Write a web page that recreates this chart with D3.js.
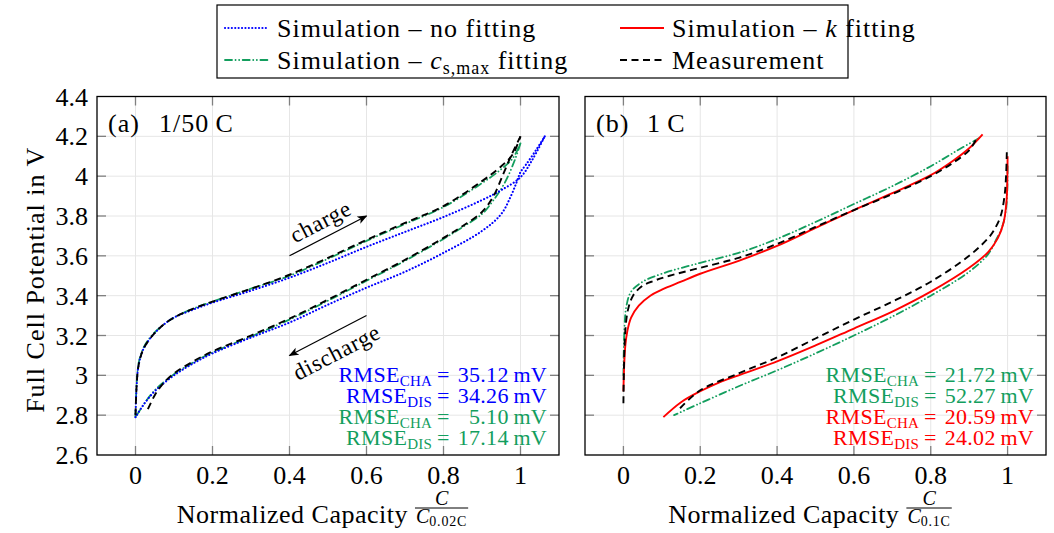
<!DOCTYPE html>
<html>
<head>
<meta charset="utf-8">
<script src="https://cdn.jsdelivr.net/npm/d3@7"></script>
<style>
  body { margin: 0; background: #fff; }
  svg { display: block; font-family: "Liberation Serif", "Times New Roman", serif; }
</style>
</head>
<body>
<svg width="1054" height="533"></svg>
<script>
const svg = d3.select("svg");

// ticks
const xTicks = [0, 0.2, 0.4, 0.6, 0.8, 1];
const xTickLabels = ["0", "0.2", "0.4", "0.6", "0.8", "1"];
const yTicks = [2.6, 2.8, 3, 3.2, 3.4, 3.6, 3.8, 4, 4.2, 4.4];
const yTickLabels = ["2.6", "2.8", "3", "3.2", "3.4", "3.6", "3.8", "4", "4.2", "4.4"];

// (a) 1/50 C  -- [normalized capacity, voltage]
const aMeasCha = [[0, 2.80], [0.003, 2.95], [0.008, 3.05], [0.02, 3.13], [0.04, 3.19], [0.07, 3.25], [0.1, 3.29], [0.15, 3.335], [0.2, 3.37], [0.3, 3.435], [0.4, 3.505], [0.5, 3.59], [0.6, 3.68], [0.7, 3.765], [0.8, 3.85], [0.9, 3.975], [0.95, 4.05], [0.98, 4.11], [1.0, 4.20]];
const aMeasDis = [[1.0, 4.20], [0.975, 4.10], [0.955, 4.01], [0.93, 3.90], [0.9, 3.82], [0.85, 3.75], [0.8, 3.69], [0.7, 3.58], [0.6, 3.48], [0.5, 3.38], [0.4, 3.285], [0.3, 3.20], [0.2, 3.12], [0.15, 3.07], [0.1, 3.01], [0.07, 2.955], [0.05, 2.90], [0.031, 2.825]];
const aNoFitCha = [[0, 2.79], [0.003, 2.95], [0.008, 3.05], [0.02, 3.13], [0.04, 3.19], [0.07, 3.25], [0.1, 3.29], [0.15, 3.33], [0.2, 3.365], [0.3, 3.425], [0.4, 3.49], [0.5, 3.565], [0.6, 3.645], [0.7, 3.72], [0.8, 3.795], [0.9, 3.88], [0.95, 3.93], [1.0, 3.995], [1.03, 4.08], [1.063, 4.20]];
const aNoFitDis = [[1.063, 4.20], [1.04, 4.13], [1.015, 4.06], [1.0, 4.02], [0.99, 3.97], [0.975, 3.9], [0.95, 3.81], [0.9, 3.725], [0.8, 3.615], [0.7, 3.52], [0.6, 3.44], [0.5, 3.355], [0.4, 3.265], [0.3, 3.19], [0.2, 3.11], [0.15, 3.06], [0.1, 3.0], [0.05, 2.92], [0.02, 2.85], [0, 2.79]];
const aCsCha = [[0, 2.79], [0.003, 2.96], [0.008, 3.06], [0.02, 3.135], [0.04, 3.195], [0.07, 3.25], [0.1, 3.29], [0.15, 3.335], [0.2, 3.37], [0.3, 3.435], [0.4, 3.50], [0.5, 3.585], [0.6, 3.675], [0.7, 3.76], [0.8, 3.845], [0.9, 3.965], [0.95, 4.035], [0.98, 4.09], [1.0, 4.165]];
const aCsDis = [[1.0, 4.165], [0.985, 4.08], [0.96, 3.97], [0.93, 3.88], [0.9, 3.81], [0.85, 3.745], [0.8, 3.685], [0.7, 3.575], [0.6, 3.475], [0.5, 3.375], [0.4, 3.28], [0.3, 3.195], [0.2, 3.115], [0.15, 3.065], [0.1, 3.005], [0.05, 2.925], [0.02, 2.85], [0, 2.79]];

// (b) 1 C
const bMeasCha = [[0, 2.86], [0.001, 3.0], [0.003, 3.15], [0.006, 3.25], [0.012, 3.33], [0.025, 3.40], [0.05, 3.45], [0.08, 3.475], [0.12, 3.50], [0.2, 3.54], [0.3, 3.59], [0.4, 3.66], [0.5, 3.745], [0.6, 3.83], [0.7, 3.91], [0.8, 4.0], [0.86, 4.07], [0.9, 4.13], [0.917, 4.18]];
const bMeasDis = [[0.998, 4.12], [0.996, 4.0], [0.992, 3.9], [0.982, 3.8], [0.965, 3.73], [0.95, 3.69], [0.9, 3.60], [0.8, 3.47], [0.7, 3.37], [0.6, 3.28], [0.5, 3.185], [0.4, 3.09], [0.3, 3.01], [0.2, 2.925], [0.145, 2.83]];
const bKCha = [[0, 2.92], [0.002, 3.05], [0.005, 3.15], [0.01, 3.22], [0.02, 3.29], [0.04, 3.35], [0.07, 3.40], [0.1, 3.43], [0.15, 3.47], [0.2, 3.51], [0.3, 3.575], [0.4, 3.65], [0.5, 3.74], [0.6, 3.83], [0.7, 3.915], [0.8, 4.005], [0.86, 4.08], [0.9, 4.14], [0.935, 4.21]];
const bKDis = [[1.0, 4.10], [0.999, 3.95], [0.997, 3.87], [0.99, 3.77], [0.975, 3.69], [0.95, 3.62], [0.9, 3.54], [0.8, 3.42], [0.7, 3.32], [0.6, 3.235], [0.5, 3.15], [0.4, 3.07], [0.3, 3.0], [0.25, 2.965], [0.2, 2.92], [0.15, 2.865], [0.104, 2.79]];
const bCsCha = [[0, 3.0], [0.003, 3.25], [0.008, 3.35], [0.02, 3.42], [0.05, 3.47], [0.1, 3.51], [0.2, 3.565], [0.3, 3.615], [0.4, 3.685], [0.5, 3.77], [0.6, 3.86], [0.7, 3.95], [0.8, 4.05], [0.87, 4.13], [0.925, 4.19]];
const bCsDis = [[1.0, 4.05], [0.999, 3.92], [0.995, 3.82], [0.985, 3.74], [0.97, 3.68], [0.95, 3.61], [0.9, 3.52], [0.8, 3.40], [0.7, 3.295], [0.6, 3.20], [0.5, 3.11], [0.4, 3.025], [0.3, 2.945], [0.2, 2.86], [0.132, 2.80]];

// RMSE annotations
const aRmseSub = ["CHA", "DIS", "CHA", "DIS"];
const aRmseVal = [35.12, 34.26, 5.10, 17.14];
const aRmseSeries = ["noFit", "noFit", "cs", "cs"];
const bRmseSub = ["CHA", "DIS", "CHA", "DIS"];
const bRmseVal = [21.72, 52.27, 20.59, 24.02];
const bRmseSeries = ["cs", "cs", "k", "k"];

// arrows in panel (a)
const arrowCha = [[0.4, 3.6], [0.6, 3.8]];
const arrowDis = [[0.6, 3.3], [0.4, 3.1]];

//////////// STYLES ////////////

const styles = {
  noFit: { color: "#0000ff", dash: "0.1,3.3", cap: "round", width: 2.1 },
  cs:    { color: "#139e5e", dash: "7,3.5,0.1,3.5,0.1,3.5", cap: "round", width: 1.8 },
  k:     { color: "#ff0000", dash: null, cap: "butt", width: 1.9 },
  meas:  { color: "#000000", dash: "7,4.5", cap: "butt", width: 1.9 },
};

const FS = 26;
const LS = 1; // letter spacing for words, to get closer to the wider original face
const plotTop = 96.5, plotBottom = 455;
const y = d3.scaleLinear().domain([2.6, 4.4]).range([plotBottom, plotTop]);

svg.attr("font-family", "'Liberation Serif', 'Times New Roman', serif");

svg.append("defs").append("marker")
  .attr("id", "arrowhead")
  .attr("viewBox", "0 0 10 10")
  .attr("refX", 9).attr("refY", 5)
  .attr("markerWidth", 10).attr("markerHeight", 10)
  .attr("markerUnits", "userSpaceOnUse")
  .attr("orient", "auto")
  .append("path")
  .attr("d", "M0,1 L10,5 L0,9 L2.5,5 Z")
  .attr("fill", "black");

function drawPanel(x0, x1, curves, showY) {
  const x = d3.scaleLinear().domain([-0.1, 1.1]).range([x0, x1]);
  const g = svg.append("g");

  // grid
  g.append("g").selectAll("line").data(xTicks).join("line")
    .attr("x1", d => x(d)).attr("x2", d => x(d))
    .attr("y1", plotTop).attr("y2", plotBottom)
    .attr("stroke", "#e6e6e6");
  g.append("g").selectAll("line").data(yTicks).join("line")
    .attr("x1", x0).attr("x2", x1)
    .attr("y1", d => y(d)).attr("y2", d => y(d))
    .attr("stroke", "#e6e6e6");

  // inner ticks on all four sides
  const tk = 9;
  const tg = g.append("g").attr("stroke", "#808080").attr("stroke-width", 1.3);
  tg.selectAll(".xb").data(xTicks).join("line")
    .attr("x1", d => x(d)).attr("x2", d => x(d)).attr("y1", plotBottom).attr("y2", plotBottom - tk);
  tg.selectAll(".xt").data(xTicks).join("line")
    .attr("x1", d => x(d)).attr("x2", d => x(d)).attr("y1", plotTop).attr("y2", plotTop + tk);
  tg.selectAll(".yl").data(yTicks.slice(1, -1)).join("line")
    .attr("x1", x0).attr("x2", x0 + tk).attr("y1", d => y(d)).attr("y2", d => y(d));
  tg.selectAll(".yr").data(yTicks.slice(1, -1)).join("line")
    .attr("x1", x1).attr("x2", x1 - tk).attr("y1", d => y(d)).attr("y2", d => y(d));

  // tick labels
  g.append("g").selectAll("text").data(xTicks).join("text")
    .attr("x", d => x(d)).attr("y", plotBottom + 29)
    .attr("text-anchor", "middle").attr("font-size", FS)
    .text((d, i) => xTickLabels[i]);
  if (showY) {
    g.append("g").selectAll("text").data(yTicks).join("text")
      .attr("x", x0 - 9).attr("y", d => y(d) + 9)
      .attr("text-anchor", "end").attr("font-size", FS)
      .text((d, i) => yTickLabels[i]);
  }

  // curves
  const line = d3.line()
    .x(d => x(d[0])).y(d => y(d[1]))
    .curve(d3.curveCatmullRom.alpha(0.5));
  const cg = g.append("g").attr("fill", "none");
  curves.forEach(([data, key]) => {
    const s = styles[key];
    cg.append("path")
      .attr("d", line(data))
      .attr("stroke", s.color)
      .attr("stroke-width", s.width)
      .attr("stroke-linecap", s.cap)
      .attr("stroke-linejoin", "round")
      .attr("stroke-dasharray", s.dash);
  });

  // frame
  g.append("rect")
    .attr("x", x0).attr("y", plotTop)
    .attr("width", x1 - x0).attr("height", plotBottom - plotTop)
    .attr("fill", "none").attr("stroke", "black").attr("stroke-width", 1.3);

  return { g, x };
}

const pa = drawPanel(97, 559, [
  [aCsCha, "cs"], [aCsDis, "cs"],
  [aNoFitCha, "noFit"], [aNoFitDis, "noFit"],
  [aMeasCha, "meas"], [aMeasDis, "meas"],
], true);

const pb = drawPanel(585, 1046, [
  [bCsCha, "cs"], [bCsDis, "cs"],
  [bKCha, "k"], [bKDis, "k"],
  [bMeasCha, "meas"], [bMeasDis, "meas"],
], false);

// panel titles
function panelTitle(p, tag, rate) {
  const x0 = p.x.range()[0];
  p.g.append("text").attr("x", x0 + 11).attr("y", plotTop + 35)
    .attr("font-size", FS).attr("letter-spacing", LS).text(tag);
  p.g.append("text").attr("x", x0 + 62).attr("y", plotTop + 35)
    .attr("font-size", FS).attr("letter-spacing", LS).text(rate);
}
panelTitle(pa, "(a)", "1/50\u2009C");
panelTitle(pb, "(b)", "1\u2009C");

// RMSE blocks
function rmseBlock(p, subs, vals, series) {
  const right = p.x.range()[1] - 12;
  const g = p.g.append("g").attr("font-size", 22).attr("letter-spacing", 0.3);
  const base = plotBottom - 73;
  const vt = g.selectAll(".v").data(vals).join("text")
    .attr("x", right).attr("y", (d, i) => base + i * 21)
    .attr("text-anchor", "end")
    .attr("fill", (d, i) => styles[series[i]].color)
    .text(d => d.toFixed(2) + "\u2009mV");
  const maxW = d3.max(vt.nodes(), n => n.getComputedTextLength());
  const lt = g.selectAll(".l").data(subs).join("text")
    .attr("x", right - maxW - 8).attr("y", (d, i) => base + i * 21)
    .attr("text-anchor", "end")
    .attr("fill", (d, i) => styles[series[i]].color);
  lt.append("tspan").text("RMSE");
  lt.append("tspan").attr("font-size", 15).attr("dy", 4).text(d => d);
  lt.append("tspan").attr("dy", -4).text("\u2009=");
}
rmseBlock(pa, aRmseSub, aRmseVal, aRmseSeries);
rmseBlock(pb, bRmseSub, bRmseVal, bRmseSeries);

// charge / discharge arrows
function arrow(p, pts, label, side) {
  const [a, b] = pts.map(d => [p.x(d[0]), y(d[1])]);
  p.g.append("line")
    .attr("x1", a[0]).attr("y1", a[1]).attr("x2", b[0]).attr("y2", b[1])
    .attr("stroke", "black").attr("stroke-width", 1.2)
    .attr("marker-end", "url(#arrowhead)");
  const dx = b[0] - a[0], dy = b[1] - a[1];
  const len = Math.hypot(dx, dy);
  let ang = Math.atan2(dy, dx) * 180 / Math.PI;
  if (ang > 90 || ang < -90) ang += 180;
  const nx = dy / len, ny = -dx / len; // normal
  const sgn = side === "above" ? (ny < 0 ? 1 : -1) : (ny > 0 ? 1 : -1);
  const off = side === "above" ? 16 : 19;
  const cx = (a[0] + b[0]) / 2 + sgn * nx * off;
  const cy = (a[1] + b[1]) / 2 + sgn * ny * off;
  p.g.append("text")
    .attr("transform", `translate(${cx},${cy}) rotate(${ang})`)
    .attr("text-anchor", "middle").attr("dy", "0.33em")
    .attr("font-size", 23).attr("letter-spacing", 0.8)
    .text(label);
}
arrow(pa, arrowCha, "charge", "above");
arrow(pa, arrowDis, "discharge", "below");

// axis titles
svg.append("text")
  .attr("transform", `translate(35,${(plotTop + plotBottom) / 2 + 4}) rotate(-90)`)
  .attr("text-anchor", "middle").attr("dy", "0.35em")
  .attr("font-size", FS).attr("letter-spacing", LS)
  .text("Full Cell Potential in V");

function xTitle(p, subText) {
  const [x0, x1] = p.x.range();
  const g = p.g.append("g");
  const t = g.append("text").attr("y", 523).attr("font-size", FS)
    .attr("letter-spacing", 0.5).text("Normalized Capacity");
  const tw = t.node().getComputedTextLength();
  const num = g.append("text").attr("y", 505).attr("font-size", 20)
    .attr("font-style", "italic").attr("text-anchor", "middle").text("C");
  const den = g.append("text").attr("y", 523).attr("font-size", 20);
  den.append("tspan").attr("font-style", "italic").text("C");
  den.append("tspan").attr("font-size", 14).attr("dy", 3).attr("letter-spacing", 0.8).text(subText);
  const dw = den.node().getComputedTextLength();
  const total = tw + 8 + dw;
  const sx = (x0 + x1) / 2 - 6 - total / 2;
  t.attr("x", sx);
  den.attr("x", sx + tw + 8);
  num.attr("x", sx + tw + 8 + dw / 2);
  g.append("line")
    .attr("x1", sx + tw + 7).attr("x2", sx + tw + 9 + dw)
    .attr("y1", 508).attr("y2", 508)
    .attr("stroke", "black").attr("stroke-width", 1);
}
xTitle(pa, "0.02C");
xTitle(pb, "0.1C");

// legend
const lg = svg.append("g");
lg.append("rect").attr("x", 217).attr("y", 5).attr("width", 631).attr("height", 73)
  .attr("fill", "white").attr("stroke", "black").attr("stroke-width", 1.2);
const legendItems = [
  { key: "noFit", col: 0, row: 0 },
  { key: "k", col: 1, row: 0 },
  { key: "cs", col: 0, row: 1 },
  { key: "meas", col: 1, row: 1 },
];
const colX = [225, 620], rowY = [28, 60];
legendItems.forEach(it => {
  const s = styles[it.key];
  const lx = colX[it.col], ly = rowY[it.row];
  lg.append("line")
    .attr("x1", lx).attr("x2", lx + 44).attr("y1", ly).attr("y2", ly)
    .attr("stroke", s.color).attr("stroke-width", s.width)
    .attr("stroke-linecap", s.cap).attr("stroke-dasharray", s.dash);
  const t = lg.append("text").attr("x", lx + 52).attr("y", ly + 9)
    .attr("font-size", FS).attr("letter-spacing", LS);
  if (it.key === "noFit") t.text("Simulation \u2013 no fitting");
  if (it.key === "meas") t.text("Measurement");
  if (it.key === "k") {
    t.append("tspan").text("Simulation \u2013 ");
    t.append("tspan").attr("font-style", "italic").text("k");
    t.append("tspan").text(" fitting");
  }
  if (it.key === "cs") {
    t.append("tspan").text("Simulation \u2013 ");
    t.append("tspan").attr("font-style", "italic").text("c");
    t.append("tspan").attr("font-size", 18).attr("dy", 5).text("s,max");
    t.append("tspan").attr("dy", -5).text(" fitting");
  }
});
</script>
</body>
</html>
